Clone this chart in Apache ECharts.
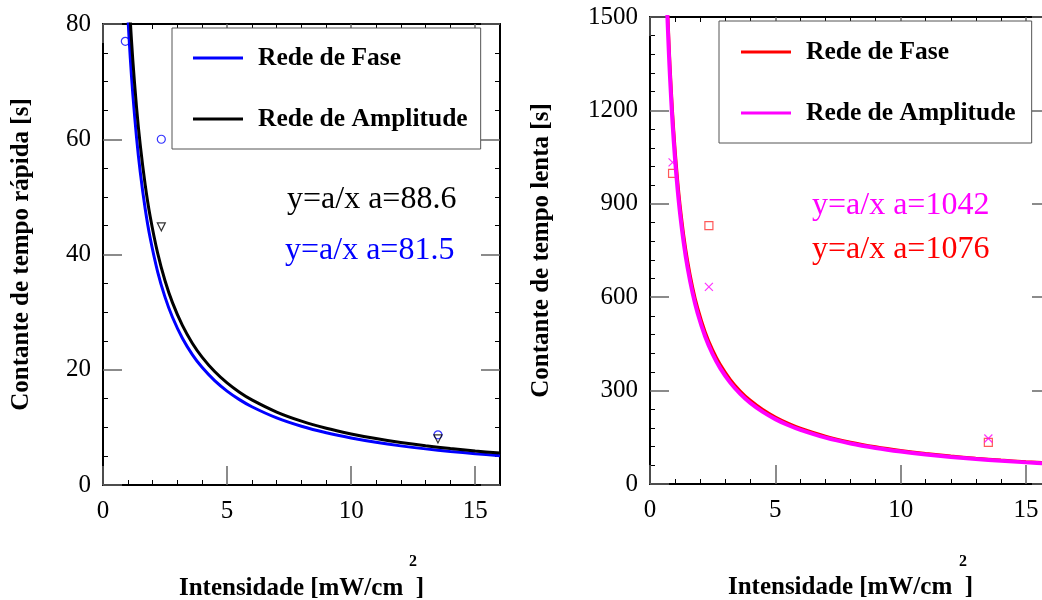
<html>

<head>
  <meta charset="utf-8">
  <title>Contante de tempo</title>
  <script src="https://cdn.jsdelivr.net/npm/echarts@6/dist/echarts.min.js"></script>
  <style>
    body { margin: 0; background: #fff; }
  </style>
</head>

<body>
  <div id="main" style="width: 1042px;height:600px;"></div>
  <script type="text/javascript">
    // pontos medidos (intensidade em mW/cm2)
    var faseRapidaX = [0.9, 2.35, 13.5];
    var faseRapidaY = [77, 60, 8.7];
    var ampRapidaX = [2.35, 13.5];
    var ampRapidaY = [44.8, 8];

    var faseLentaX = [0.9, 2.35, 13.5];
    var faseLentaY = [998, 830, 134];
    var ampLentaX = [0.9, 2.35, 13.5];
    var ampLentaY = [1033, 633, 146];

    // ajustes y = a/x (valores de a escritos no grafico)
    var aFaseRapida = 81.5;
    var aAmpRapida = 88.6;
    var aFaseLenta = 1076;
    var aAmpLenta = 1042;
    var curvaX = [0.6, 0.65, 0.7, 0.75, 0.8, 0.9, 1, 1.1, 1.2, 1.35, 1.5, 1.7, 1.9, 2.2, 2.5, 2.8,
      3.2, 3.6, 4, 4.5, 5, 5.5, 6, 7, 8, 9, 10, 11, 12, 13, 14, 15, 16];

    var xTicks = [0, 5, 10, 15];

    var serif = "'Liberation Serif', 'Times New Roman', serif";

    function pares(xs, ys) {
      var out = [];
      for (var i = 0; i < xs.length; i++) out.push([xs[i], ys[i]]);
      return out;
    }
    function ajuste(a) {
      var out = [];
      for (var i = 0; i < curvaX.length; i++) out.push([curvaX[i], a / curvaX[i]]);
      return out;
    }

    function eixoX(grid, pos, name, gap) {
      return {
        type: 'value', gridIndex: grid, position: pos, min: 0, max: 16,
        interval: 5,
        name: pos === 'bottom' ? name : '',
        nameLocation: 'middle', nameGap: gap,
        nameTextStyle: { fontFamily: serif, fontSize: 25, fontWeight: 'bold', color: '#000' },
        axisLine: { onZero: false, lineStyle: { color: '#000', width: 2 } },
        axisTick: { inside: true, length: 19, customValues: xTicks, lineStyle: { color: '#666', width: 1.5 } },
        minorTick: { show: true, splitNumber: 5, length: 5, lineStyle: { color: '#000', width: 1 } },
        axisLabel: {
          show: pos === 'bottom', customValues: xTicks, margin: 14,
          fontFamily: serif, fontSize: 25, color: '#000'
        },
        splitLine: { show: false }
      };
    }
    function eixoY(grid, pos, max, step, minor, name, gap) {
      return {
        type: 'value', gridIndex: grid, position: pos, min: 0, max: max, interval: step,
        name: pos === 'left' ? name : '',
        nameLocation: 'middle', nameGap: gap,
        nameTextStyle: { fontFamily: serif, fontSize: 25, fontWeight: 'bold', color: '#000' },
        axisLine: { onZero: false, lineStyle: { color: '#000', width: 2 } },
        axisTick: { inside: true, length: 19, lineStyle: { color: '#666', width: 1.5 } },
        minorTick: { show: true, splitNumber: minor, length: 5, lineStyle: { color: '#000', width: 1 } },
        axisLabel: {
          show: pos === 'left', margin: 12,
          formatter: function (v) { return String(v); },
          fontFamily: serif, fontSize: 25, color: '#000'
        },
        splitLine: { show: false }
      };
    }

    var nomes = {
      faseL: 'Rede de Fase', ampL: 'Rede de Amplitude',
      faseR: 'Rede de Fase', ampR: 'Rede de Amplitude'
    };

    function legenda(left, top, pad) {
      return {
        left: left, top: top, orient: 'vertical',
        backgroundColor: '#fff', borderColor: '#555', borderWidth: 1,
        padding: pad, itemGap: 35, itemWidth: 50, itemHeight: 3,
        icon: 'rect', selectedMode: false,
        formatter: function (n) { return nomes[n]; },
        textStyle: {
          fontFamily: serif, fontSize: 25.5, fontWeight: 'bold', color: '#000',
          lineHeight: 24, padding: [0, 0, 0, 10]
        }
      };
    }

    var myChart = echarts.init(document.getElementById('main'));
    myChart.setOption({
      animation: false,
      backgroundColor: '#fff',
      grid: [
        { left: 103, top: 24, width: 397, height: 461, outerBoundsMode: 'none', containLabel: false },
        { left: 650, top: 17, width: 401, height: 467, outerBoundsMode: 'none', containLabel: false }
      ],
      xAxis: [
        eixoX(0, 'bottom', 'Intensidade [mW/cm  ]', 91),
        eixoX(0, 'top', '', 0),
        eixoX(1, 'bottom', 'Intensidade [mW/cm  ]', 91),
        eixoX(1, 'top', '', 0)
      ],
      yAxis: [
        eixoY(0, 'left', 80, 20, 4, 'Contante de tempo rápida [s]', 69),
        eixoY(0, 'right', 80, 20, 4, '', 0),
        eixoY(1, 'left', 1500, 300, 5, 'Contante de tempo lenta [s]', 96),
        eixoY(1, 'right', 1500, 300, 5, '', 0)
      ],
      legend: [
        Object.assign(legenda(172, 28, [17, 13, 17, 21]), { data: ['faseL', 'ampL'] }),
        Object.assign(legenda(719, 21, [18, 16, 17, 22]), { data: ['faseR', 'ampR'] })
      ],
      series: [
        {
          name: 'faseL', type: 'line', xAxisIndex: 0, yAxisIndex: 0, data: ajuste(aFaseRapida),
          showSymbol: false, symbol: 'none', smooth: 0.3, color: '#0000ff',
          lineStyle: { color: '#0000ff', width: 3 }
        },
        {
          name: 'ampL', type: 'line', xAxisIndex: 0, yAxisIndex: 0, data: ajuste(aAmpRapida),
          showSymbol: false, symbol: 'none', smooth: 0.3, color: '#000',
          lineStyle: { color: '#000', width: 3 }
        },
        {
          type: 'scatter', xAxisIndex: 0, yAxisIndex: 0, data: pares(faseRapidaX, faseRapidaY),
          symbol: 'circle', symbolSize: 8, color: '#0000ff',
          itemStyle: { color: 'transparent', borderColor: '#0000ff', borderWidth: 1.2 }
        },
        {
          type: 'scatter', xAxisIndex: 0, yAxisIndex: 0, data: pares(ampRapidaX, ampRapidaY),
          symbol: 'triangle', symbolRotate: 180, symbolSize: 8, color: '#000',
          itemStyle: { color: 'transparent', borderColor: '#000', borderWidth: 1.2 }
        },
        {
          name: 'faseR', type: 'line', xAxisIndex: 2, yAxisIndex: 2, data: ajuste(aFaseLenta),
          showSymbol: false, symbol: 'none', smooth: 0.3, color: '#ff0000',
          lineStyle: { color: '#ff0000', width: 3 }
        },
        {
          name: 'ampR', type: 'line', xAxisIndex: 2, yAxisIndex: 2, data: ajuste(aAmpLenta),
          showSymbol: false, symbol: 'none', smooth: 0.3, color: '#ff00ff',
          lineStyle: { color: '#ff00ff', width: 4 }
        },
        {
          type: 'scatter', xAxisIndex: 2, yAxisIndex: 2, data: pares(faseLentaX, faseLentaY),
          symbol: 'rect', symbolSize: 8, color: '#ff0000',
          itemStyle: { color: 'transparent', borderColor: '#ff3030', borderWidth: 1.2 }
        },
        {
          type: 'scatter', xAxisIndex: 2, yAxisIndex: 2, data: pares(ampLentaX, ampLentaY),
          symbol: 'path://M0,0L10,10M10,0L0,10', symbolSize: 8, color: '#ff00ff',
          itemStyle: { color: 'transparent', borderColor: '#ff00ff', borderWidth: 1.2 }
        }
      ],
      graphic: [
        { type: 'text', left: 287, top: 184, style: { text: 'y=a/x a=88.6', fill: '#000', font: '32px ' + serif } },
        { type: 'text', left: 285, top: 235, style: { text: 'y=a/x a=81.5', fill: '#0000ff', font: '32px ' + serif } },
        { type: 'text', left: 812, top: 190, style: { text: 'y=a/x a=1042', fill: '#ff00ff', font: '32px ' + serif } },
        { type: 'text', left: 812, top: 234, style: { text: 'y=a/x a=1076', fill: '#ff0000', font: '32px ' + serif } },
        { type: 'text', left: 409, top: 554, style: { text: '2', fill: '#000', font: 'bold 16px ' + serif } },
        { type: 'text', left: 959, top: 554, style: { text: '2', fill: '#000', font: 'bold 16px ' + serif } }
      ]
    });
  </script>
</body>

</html>
